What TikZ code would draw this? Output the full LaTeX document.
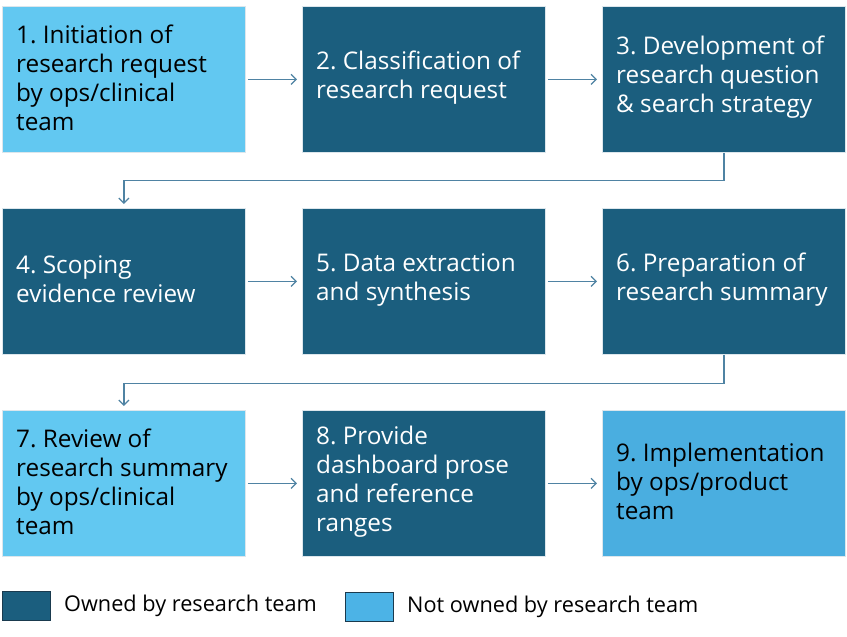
\documentclass[tikz,border=0pt]{standalone}
\usepackage{fontspec}
\setmainfont{Open Sans}
\usetikzlibrary{arrows.meta}
\definecolor{darkbox}{HTML}{1B5E7E}
\definecolor{lightbox}{HTML}{62C8F1}
\definecolor{midbox}{HTML}{4AAEE0}
\definecolor{legendlight}{HTML}{4CB3E6}
\definecolor{boxedge}{HTML}{DCE6EC}
\definecolor{conncol}{HTML}{4F83A3}
\definecolor{legedge}{HTML}{1A3A4E}
\frenchspacing
\begin{document}
\begin{tikzpicture}[x=1pt,y=-1pt,
  box/.style={minimum width=243pt, minimum height=146pt, inner sep=0pt,
    anchor=north west, draw=boxedge, line width=0.8pt},
  label/.style={anchor=west, inner sep=0pt, align=left,
    font=\fontsize{24.3}{29}\selectfont},
  darkb/.style={box, fill=darkbox},
  lightb/.style={box, fill=lightbox},
  conn/.style={draw=conncol, line width=1.3pt, -{Straight Barb[length=5pt,width=10pt]}},
  legsq/.style={minimum width=48pt, minimum height=29pt, inner sep=0pt, draw=legedge, line width=0.9pt, anchor=north west},
  legtext/.style={anchor=west, inner sep=0pt, font=\fontsize{21.7}{24}\selectfont, text=black}]
\useasboundingbox[fill=white] (0,0) rectangle (847,637);
% boxes
\node[lightb] (b1) at (2,6) {};
\node[darkb] (b2) at (302,6) {};
\node[darkb] (b3) at (602,6) {};
\node[darkb] (b4) at (2,208) {};
\node[darkb] (b5) at (302,208) {};
\node[darkb] (b6) at (602,208) {};
\node[lightb] (b7) at (2,410) {};
\node[darkb] (b8) at (302,410) {};
\node[box, fill=midbox] (b9) at (602,410) {};
% texts
\node[label, text=black] (x1) at ([xshift=14pt,yshift=1.8pt]b1.west) {1. Initiation of\\research request\\by ops/clinical\\team};
\node[label, text=white] (x2) at ([xshift=14pt,yshift=1.8pt]b2.west) {2. Classification of\\research request};
\node[label, text=white] (x3) at ([xshift=14pt,yshift=1.8pt]b3.west) {3. Development of\\research question\\\& search strategy};
\node[label, text=white] (x4) at ([xshift=14pt,yshift=1.8pt]b4.west) {4. Scoping\\evidence review};
\node[label, text=white] (x5) at ([xshift=14pt,yshift=1.8pt]b5.west) {5. Data extraction\\and synthesis};
\node[label, text=white] (x6) at ([xshift=14pt,yshift=1.8pt]b6.west) {6. Preparation of\\research summary};
\node[label, text=black] (x7) at ([xshift=14pt,yshift=1.8pt]b7.west) {7. Review of\\research summary\\by ops/clinical\\team};
\node[label, text=white] (x8) at ([xshift=14pt,yshift=1.8pt]b8.west) {8. Provide\\dashboard prose\\and reference\\ranges};
\node[label, text=black] (x9) at ([xshift=14pt,yshift=1.8pt]b9.west) {9. Implementation\\by ops/product\\team};
% connectors
\foreach \a/\b in {b1/b2,b2/b3,b4/b5,b5/b6,b7/b8,b8/b9}{
  \draw[conn, shorten <=2pt, shorten >=5pt] (\a.east) -- (\b.west);
}
\draw[conn, shorten >=4pt] (b3.south) -- ++(0,28) -| (b4.north);
\draw[conn, shorten >=4pt] (b6.south) -- ++(0,29) -| (b7.north);
% legend
\node[legsq, fill=darkbox] (l1) at (2,591) {};
\node[legtext] (t1) at (64,606) {Owned by research team};
\node[legsq, fill=legendlight] (l2) at (345,592) {};
\node[legtext] (t2) at (407,607) {Not owned by research team};
\end{tikzpicture}
\end{document}
